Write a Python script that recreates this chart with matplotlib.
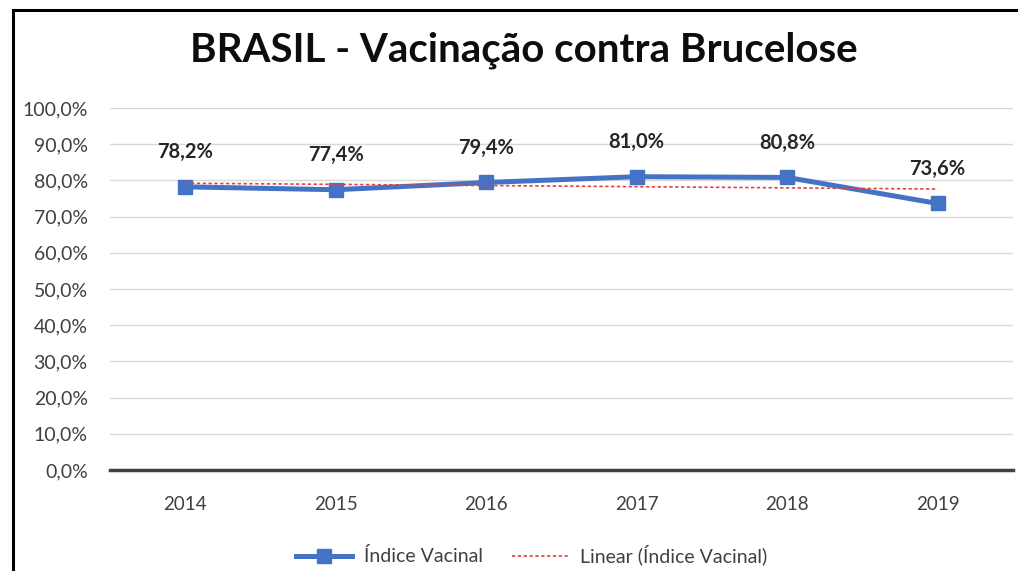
import numpy as np
import matplotlib.pyplot as plt
from matplotlib.lines import Line2D
from matplotlib.ticker import FuncFormatter

anos = ['2014', '2015', '2016', '2017', '2018', '2019']
indice = [78.2, 77.4, 79.4, 81.0, 80.8, 73.6]
y_ticks = [0, 10, 20, 30, 40, 50, 60, 70, 80, 90, 100]

plt.rcParams['font.family'] = ['Lato', 'DejaVu Sans']

fig = plt.figure(figsize=(10.18, 5.71), dpi=100)
ax = fig.add_axes([0.108, 0.177, 0.887, 0.634])

x = np.arange(len(anos))
ax.plot(x, indice, color='#4472C4', linewidth=3.6, marker='s', markersize=10,
        label='Índice Vacinal', zorder=3)

# linear trend
coef = np.polyfit(x, indice, 1)
ax.plot(x, np.polyval(coef, x), color='#E8413C', linestyle=(0, (2, 1.5)),
        linewidth=1.2, label='Linear (Índice Vacinal)', zorder=4)

for xi, v in zip(x, indice):
    ax.annotate(f'{v:.1f}%'.replace('.', ','), (xi, v), xytext=(0, 25),
                textcoords='offset points', ha='center', va='center',
                fontsize=14.5, fontweight='bold', color='#262626')

ax.set_xlim(-0.5, len(anos) - 0.5)
ax.set_ylim(0, 100)
ax.set_xticks(x)
ax.set_xticklabels(anos)
ax.set_yticks(y_ticks)
ax.yaxis.set_major_formatter(FuncFormatter(lambda v, p: f'{v:.1f}%'.replace('.', ',')))
ax.tick_params(axis='both', length=0, labelcolor='#404040')
ax.tick_params(axis='x', pad=19, labelsize=13.5)
ax.tick_params(axis='y', pad=16, labelsize=14)

ax.grid(axis='y', color='#D9D9D9', linewidth=1)
ax.set_axisbelow(True)
for s in ['top', 'right', 'left']:
    ax.spines[s].set_visible(False)
ax.spines['bottom'].set_color('#404040')
ax.spines['bottom'].set_linewidth(2.5)
ax.spines['bottom'].set_zorder(5)

fig.text(0.515, 0.912, 'BRASIL - Vacinação contra Brucelose', ha='center', va='center',
         fontsize=29, fontweight='bold', color='#0D0D0D')

ax.legend(loc='center', bbox_to_anchor=(0.467, -0.235), ncol=2, frameon=False,
          fontsize=14, handlelength=2.9, handletextpad=0.6, columnspacing=1.5,
          labelcolor='#404040')

# outer border
fig.add_artist(Line2D([0.013, 1.0], [0.982, 0.982], transform=fig.transFigure,
                      color='black', linewidth=2.2))
fig.add_artist(Line2D([0.013, 0.013], [0.0, 0.982], transform=fig.transFigure,
                      color='black', linewidth=2.2))

fig.savefig('out.png', dpi=100)
